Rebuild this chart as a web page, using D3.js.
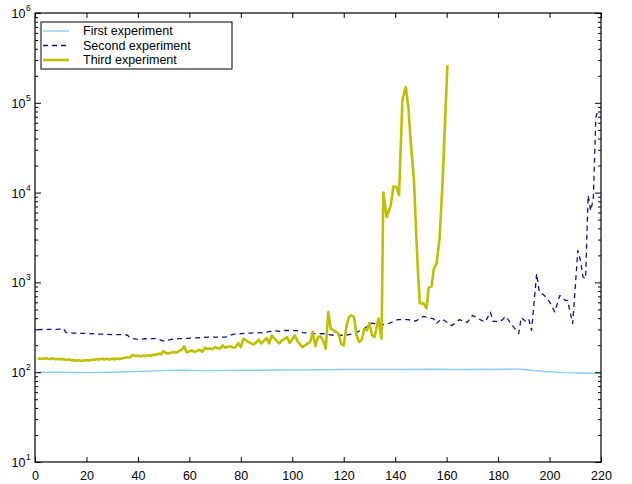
<!DOCTYPE html>
<html>
<head>
<meta charset="utf-8">
<script src="https://cdn.jsdelivr.net/npm/d3@7"></script>
<style>
  html, body { margin: 0; padding: 0; background: #fff; }
  svg { display: block; }
  text { font-family: "Liberation Sans", Arial, Helvetica, sans-serif; fill: #000; }
</style>
</head>
<body>
<svg id="chart" width="632" height="484"></svg>
<script>
// ---------- data ----------
const seriesNames = ["First experiment", "Second experiment", "Third experiment"];

const firstX = [1, 10, 20, 30, 40, 50, 57, 62, 70, 80, 100, 120, 140, 155, 165, 175, 180, 186, 190, 198, 205, 212, 220];
const firstY = [100, 100, 99, 100, 102, 104, 106, 104, 104, 105, 106, 107, 107, 108, 107, 108, 107, 109, 107, 102, 99, 98, 97];

const secondX = [1, 5, 9, 11, 12, 15, 20, 25, 30, 34, 36, 37, 40, 43, 45, 47, 50, 53, 56, 61, 67, 74, 77, 83, 89, 93, 96, 97, 102, 104, 108, 112, 116, 121, 124, 128, 131, 134, 138, 141, 145, 148, 151, 155, 156, 158, 160, 162, 165, 168, 170, 173, 175, 177, 178, 181, 183, 185, 188, 189, 191, 192, 193, 195, 196, 198, 200, 202, 204, 206, 207, 209, 211, 212, 213, 214, 215, 216, 217, 218, 219];
const secondY = [298, 300, 300, 308, 278, 272, 270, 266, 262, 262, 258, 240, 232, 236, 235, 238, 222, 232, 236, 240, 246, 246, 264, 273, 276, 290, 284, 292, 290, 276, 270, 268, 258, 258, 270, 305, 353, 333, 353, 385, 385, 371, 419, 393, 347, 395, 362, 330, 385, 358, 430, 385, 362, 467, 368, 368, 419, 347, 270, 405, 362, 385, 292, 1253, 785, 715, 607, 470, 715, 632, 632, 347, 2275, 1760, 1150, 1100, 9300, 6300, 8500, 69000, 85000];

const thirdX = [1, 2, 3, 4, 5, 6, 7, 8, 9, 10, 11, 12, 13, 14, 15, 16, 17, 18, 19, 20, 21, 22, 23, 24, 25, 26, 27, 28, 29, 30, 31, 32, 33, 34, 35, 36, 37, 38, 39, 40, 41, 42, 43, 44, 45, 46, 47, 48, 49, 50, 51, 52, 53, 54, 55, 56, 57, 58, 59, 60, 61, 62, 63, 64, 65, 66, 67, 68, 69, 70, 71, 72, 73, 74, 75, 76, 77, 78, 79, 80, 81, 83, 85, 87, 88, 90, 91, 92, 94, 95, 96, 98, 99, 101, 102, 104, 106, 107, 108, 109, 110, 111, 112, 113, 114, 115, 117, 118, 119, 120, 121, 122, 123, 124, 125, 126, 127, 128, 129, 130, 131, 132, 133.5, 134.7, 135.4, 136.7, 138.3, 139.3, 140.6, 141.5, 142.8, 144.1, 145.2, 146, 147.3, 148.3, 148.9, 149.6, 151.1, 152.2, 153, 154.2, 155, 156.1, 157.3, 158.4, 160.3];
const thirdY = [141, 142, 140, 143, 141, 140, 143, 139, 141, 139, 140, 137, 139, 136, 137, 134, 136, 133, 135, 137, 135, 138, 137, 140, 138, 141, 139, 141, 138, 141, 139, 142, 140, 143, 145, 147, 146, 156, 151, 153, 150, 153, 151, 155, 152, 157, 156, 161, 158, 172, 163, 162, 166, 168, 165, 172, 178, 194, 166, 171, 174, 168, 173, 178, 168, 187, 181, 184, 180, 190, 185, 184, 199, 187, 192, 194, 188, 190, 212, 190, 236, 217, 203, 230, 209, 240, 209, 257, 222, 209, 226, 246, 212, 257, 222, 190, 209, 217, 282, 195, 246, 250, 226, 183, 467, 305, 282, 268, 208, 199, 318, 412, 430, 412, 258, 217, 230, 305, 292, 353, 258, 246, 395, 236, 10000, 5350, 7200, 11700, 11500, 9350, 107000, 150000, 85000, 38000, 13700, 2900, 1260, 585, 580, 514, 875, 903, 1420, 1620, 3200, 12600, 262000];

const xTicks = [0, 20, 40, 60, 80, 100, 120, 140, 160, 180, 200, 220];
const yDecades = [1e1, 1e2, 1e3, 1e4, 1e5, 1e6];
const yExponents = ["1", "2", "3", "4", "5", "6"];

// ---------- layout ----------
const svg = d3.select("#chart");
const L = 35, R = 601, T = 13, B = 462;

const x = d3.scaleLinear().domain([0, 220]).range([L, R]);
const y = d3.scaleLog().domain([10, 1e6]).range([B, T]);

const minorTicks = [];
for (let d = 10; d < 1e6; d *= 10) for (let k = 2; k <= 9; k++) minorTicks.push(d * k);

// clip
svg.append("defs").append("clipPath").attr("id", "plotclip")
  .append("rect").attr("x", L).attr("y", T).attr("width", R - L).attr("height", B - T);

// ---------- series ----------
const colors = ["#87cefa", "#10108f", "#bfbf00"];
const widths = [1.4, 1.3, 2.6];
const dashes = [null, "5,4", null];

const mk = (xs, ys) => xs.map((v, i) => [v, ys[i]]);
const datasets = [mk(firstX, firstY), mk(secondX, secondY), mk(thirdX, thirdY)];

const line = d3.line().x(d => x(d[0])).y(d => y(d[1]));
const g = svg.append("g").attr("clip-path", "url(#plotclip)");
datasets.forEach((ds, i) => {
  g.append("path").datum(ds)
    .attr("d", line)
    .attr("fill", "none")
    .attr("stroke", colors[i])
    .attr("stroke-width", widths[i])
    .attr("stroke-linejoin", "round")
    .attr("stroke-dasharray", dashes[i]);
});

// ---------- axes ----------
function styleAxis(sel) {
  sel.select(".domain").remove();
  sel.selectAll(".tick line").attr("stroke", "#000").attr("stroke-width", 1);
  sel.selectAll("text").attr("font-size", "12.5px").attr("font-family", "Liberation Sans, Arial, sans-serif");
}

svg.append("g").attr("transform", `translate(0,${B})`)
  .call(d3.axisBottom(x).tickValues(xTicks).tickSizeInner(-5).tickSizeOuter(0).tickPadding(9).tickFormat(d3.format("d")))
  .call(styleAxis);
svg.append("g").attr("transform", `translate(0,${T})`)
  .call(d3.axisTop(x).tickValues(xTicks).tickSizeInner(-5).tickSizeOuter(0).tickFormat(""))
  .call(styleAxis);

svg.append("g").attr("transform", `translate(${L},0)`)
  .call(d3.axisLeft(y).tickValues(yDecades).tickSizeInner(-6).tickSizeOuter(0).tickFormat(""))
  .call(styleAxis);
svg.append("g").attr("transform", `translate(${L},0)`)
  .call(d3.axisLeft(y).tickValues(minorTicks).tickSizeInner(-3).tickSizeOuter(0).tickFormat(""))
  .call(styleAxis);
svg.append("g").attr("transform", `translate(${R},0)`)
  .call(d3.axisRight(y).tickValues(yDecades).tickSizeInner(-6).tickSizeOuter(0).tickFormat(""))
  .call(styleAxis);
svg.append("g").attr("transform", `translate(${R},0)`)
  .call(d3.axisRight(y).tickValues(minorTicks).tickSizeInner(-3).tickSizeOuter(0).tickFormat(""))
  .call(styleAxis);

// y labels 10^n
const yl = svg.append("g");
yDecades.forEach((v, i) => {
  yl.append("text").attr("x", 25.5).attr("y", y(v) + 5)
    .attr("text-anchor", "end").attr("font-size", "12.5px").text("10");
  yl.append("text").attr("x", 26).attr("y", y(v) - 2)
    .attr("text-anchor", "start").attr("font-size", "8.5px").text(yExponents[i]);
});

// frame
svg.append("rect").attr("x", L).attr("y", T).attr("width", R - L).attr("height", B - T)
  .attr("fill", "none").attr("stroke", "#000").attr("stroke-width", 1.2);

// ---------- legend ----------
const lg = svg.append("g");
lg.append("rect").attr("x", 41).attr("y", 22).attr("width", 191).attr("height", 47)
  .attr("fill", "#fff").attr("stroke", "#000").attr("stroke-width", 1);
const rowY = [31, 45.5, 60];
seriesNames.forEach((name, i) => {
  lg.append("line").attr("x1", 43).attr("x2", 69).attr("y1", rowY[i]).attr("y2", rowY[i])
    .attr("stroke", colors[i]).attr("stroke-width", widths[i]).attr("stroke-dasharray", dashes[i]);
  lg.append("text").attr("x", 83).attr("y", rowY[i]).attr("dy", "0.35em")
    .attr("font-size", "12.5px").text(name);
});
</script>
</body>
</html>
